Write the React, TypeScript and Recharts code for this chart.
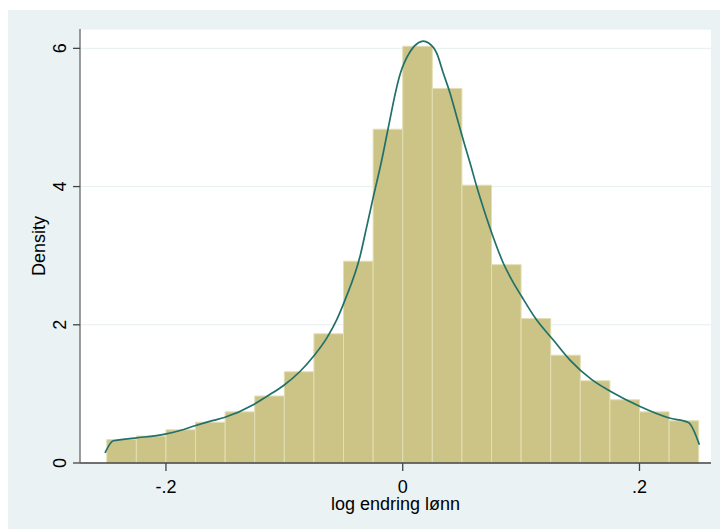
import React from "react";
import {
  ComposedChart,
  Line,
  XAxis,
  YAxis,
  CartesianGrid,
  ReferenceArea,
} from "recharts";

// Histogram bins (left edges, width 0.025) and densities
const binStarts = [
  -0.25, -0.225, -0.2, -0.175, -0.15, -0.125, -0.1, -0.075, -0.05, -0.025,
  0, 0.025, 0.05, 0.075, 0.1, 0.125, 0.15, 0.175, 0.2, 0.225,
];
const binWidth = 0.025;
const binDensity = [
  0.34, 0.39, 0.48, 0.59, 0.74, 0.97, 1.32, 1.87, 2.92, 4.83,
  6.03, 5.42, 4.02, 2.87, 2.09, 1.56, 1.19, 0.915, 0.74, 0.61,
];

// Kernel density curve
const kdeX = [
  -0.2515, -0.2445, -0.2261, -0.2008, -0.1881, -0.1755, -0.16, -0.1507,
  -0.1262, -0.1149, -0.1009, -0.0868, -0.0755, -0.0642, -0.0558, -0.0487,
  -0.0361, -0.0304, -0.0248, -0.0177, -0.0107, -0.0065, -0.0023, 0.0062,
  0.0132, 0.0174, 0.0216, 0.0287, 0.0343, 0.04, 0.0456, 0.0512, 0.0569,
  0.0625, 0.0681, 0.0737, 0.0794, 0.085, 0.0921, 0.1005, 0.1132, 0.1272,
  0.1413, 0.1597, 0.1757, 0.2005, 0.2252, 0.2413, 0.2506,
];
const kdeY = [
  0.145, 0.322, 0.361, 0.419, 0.471, 0.539, 0.616, 0.659, 0.843, 0.963, 1.118,
  1.324, 1.541, 1.807, 2.072, 2.361, 2.987, 3.421, 3.854, 4.385, 4.98, 5.33,
  5.62, 5.95, 6.08, 6.105, 6.08, 5.93, 5.64, 5.35, 5.01, 4.67, 4.34, 4.0, 3.69,
  3.4, 3.13, 2.89, 2.65, 2.409, 2.068, 1.779, 1.489, 1.206, 1.035, 0.818,
  0.651, 0.587, 0.265,
];

const xTicks = [-0.2, 0, 0.2];
const xTickLabels = ["-.2", "0", ".2"];
const yTicks = [0, 2, 4, 6];
const yTickLabels = ["0", "2", "4", "6"];

const kdeData = kdeX.map((x, i) => ({ x, y: kdeY[i] }));

const FONT = "'Liberation Sans', Arial, Helvetica, sans-serif";
const FS = 18;

const XTick = (props: any) => {
  const { x, y, payload } = props;
  const i = xTicks.indexOf(payload.value);
  return (
    <text x={x} y={y + 13} textAnchor="middle" fontSize={FS} fontFamily={FONT} fill="#000">
      {i >= 0 ? xTickLabels[i] : String(payload.value)}
    </text>
  );
};

const YTick = (props: any) => {
  const { x, y, payload } = props;
  const i = yTicks.indexOf(payload.value);
  return (
    <text
      x={x}
      y={y}
      transform={`rotate(-90 ${x} ${y})`}
      textAnchor="middle"
      fontSize={FS}
      fontFamily={FONT}
      fill="#000"
    >
      {i >= 0 ? yTickLabels[i] : String(payload.value)}
    </text>
  );
};

export default function App() {
  return (
    <div
      style={{
        position: "absolute",
        left: 8,
        top: 10,
        width: 712,
        height: 519,
        background: "#EAF2F3",
      }}
    >
      <ComposedChart
        width={712}
        height={519}
        data={kdeData}
        margin={{ top: 19, right: 9, left: 0, bottom: 0 }}
      >
        <CartesianGrid
          vertical={false}
          horizontal={true}
          fill="#FFFFFF"
          stroke="#E6EFF1"
          strokeWidth={1}
        />
        <XAxis
          type="number"
          dataKey="x"
          domain={[-0.2726, 0.2604]}
          allowDataOverflow
          ticks={xTicks}
          tick={<XTick />}
          tickSize={8}
          tickMargin={9}
          height={66}
          stroke="#444"
          axisLine={{ stroke: "#444", strokeWidth: 1.3 }}
          tickLine={{ stroke: "#444", strokeWidth: 1.3 }}
          label={{
            content: (p: any) => {
              const vb = p.viewBox || {};
              return (
                <text
                  x={vb.x + vb.width / 2}
                  y={vb.y + 47}
                  textAnchor="middle"
                  fontSize={FS}
                  fontFamily={FONT}
                  fill="#000"
                >
                  log endring lønn
                </text>
              );
            },
          }}
        />
        <YAxis
          type="number"
          domain={[0, 6.28]}
          allowDataOverflow
          ticks={yTicks}
          tick={<YTick />}
          tickSize={7}
          tickMargin={7}
          width={72}
          axisLine={{ stroke: "#666", strokeWidth: 1.3 }}
          tickLine={{ stroke: "#444", strokeWidth: 1.3 }}
          label={{
            content: (p: any) => {
              const vb = p.viewBox || {};
              const cx = vb.x + 37;
              const cy = vb.y + vb.height / 2;
              return (
                <text
                  x={cx}
                  y={cy}
                  transform={`rotate(-90 ${cx} ${cy})`}
                  textAnchor="middle"
                  fontSize={FS}
                  fontFamily={FONT}
                  fill="#000"
                >
                  Density
                </text>
              );
            },
          }}
        />
        {binStarts.map((s, i) => (
          <ReferenceArea
            key={i}
            x1={s}
            x2={s + binWidth}
            y1={0}
            y2={binDensity[i]}
            fill="#CBC486"
            fillOpacity={1}
            stroke="#E3DEB3"
            strokeWidth={1}
            ifOverflow="visible"
          />
        ))}
        <Line
          type="monotone"
          dataKey="y"
          stroke="#21706A"
          strokeWidth={1.7}
          dot={false}
          activeDot={false}
          isAnimationActive={false}
        />
      </ComposedChart>
    </div>
  );
}
